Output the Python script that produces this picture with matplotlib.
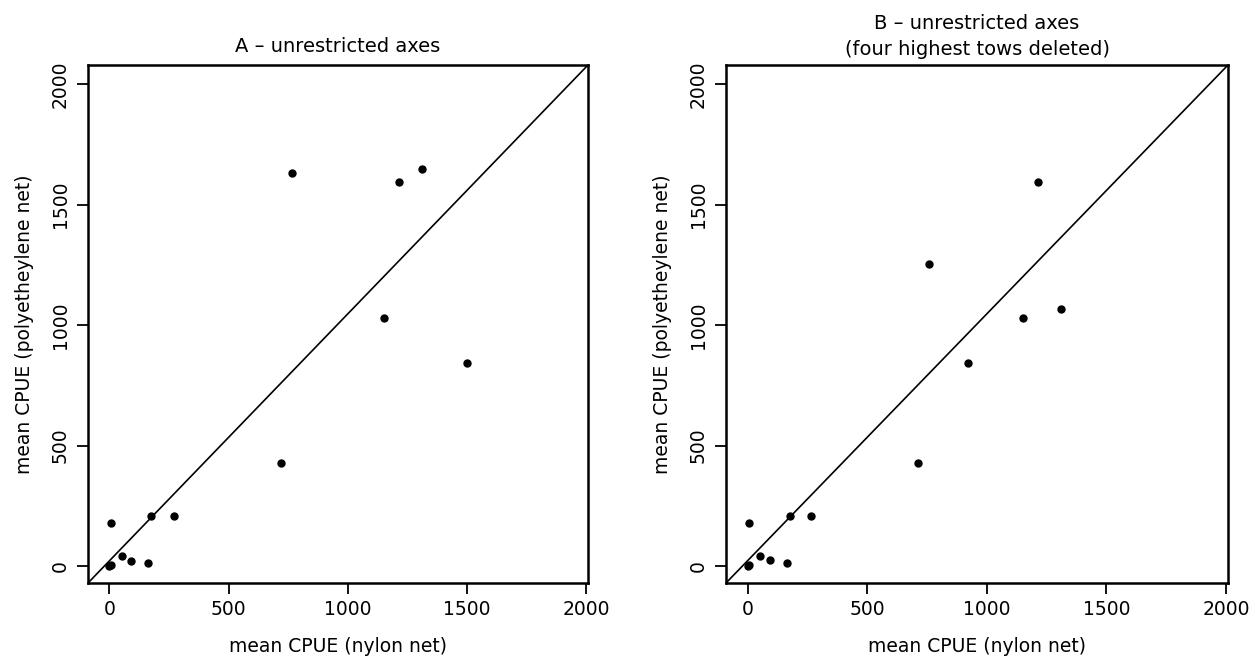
import matplotlib
matplotlib.use("Agg")
import matplotlib.pyplot as plt

# Panel A data (all tows)
a_nylon = [0, 5, 8, 54, 92, 163, 176, 272, 720, 766, 1213, 1313, 1151, 1502]
a_poly = [0, 3, 178, 41, 21, 12, 207, 207, 427, 1631, 1593, 1649, 1029, 844]

# Panel B data (four highest tows deleted)
b_nylon = [0, 5, 8, 54, 92, 163, 176, 267, 714, 760, 1215, 1152, 1311, 923]
b_poly = [0, 3, 178, 41, 25, 12, 207, 207, 427, 1253, 1593, 1029, 1066, 842]

ticks = [0, 500, 1000, 1500, 2000]
tick_labels = ["0", "500", "1000", "1500", "2000"]
titles = ["A \u2013 unrestricted axes", "B \u2013 unrestricted axes\n(four highest tows deleted)"]
title_pads = [9, 7]
xlabel = "mean CPUE (nylon net)"
ylabel = "mean CPUE (polyetheylene net)"

plt.rcParams['font.family'] = ['DejaVu Sans']
fig = plt.figure(figsize=(12.56, 6.68), dpi=100)
W, H = 1256, 668
positions = [(88, 588), (726, 1228)]
top, bottom = 65, 583

datasets = [(a_nylon, a_poly), (b_nylon, b_poly)]
for i, ((l, r), (xs, ys)) in enumerate(zip(positions, datasets)):
    ax = fig.add_axes([l / W, 1 - bottom / H, (r - l) / W, (bottom - top) / H])
    ax.plot(xs, ys, 'o', color='black', markersize=5, linestyle='none')
    ax.plot([0, 1], [0, 1], transform=ax.transAxes, color='black', lw=1.2)
    ax.set_xlim(-90, 2008)
    ax.set_ylim(-70, 2079)
    ax.set_xticks(ticks)
    ax.set_xticklabels(tick_labels)
    ax.set_yticks(ticks)
    ax.set_yticklabels(tick_labels, rotation=90, va='center')
    ax.tick_params(direction='out', length=8, width=1.3, labelsize=13.5, pad=4)
    ax.tick_params(axis='y', pad=5)
    for s in ax.spines.values():
        s.set_linewidth(1.8)
    ax.set_xlabel(xlabel, fontsize=13.5, labelpad=13)
    ax.set_ylabel(ylabel, fontsize=13.5, labelpad=12)
    ax.set_title(titles[i], fontsize=14, pad=title_pads[i], linespacing=1.5)

fig.savefig("out.png", dpi=100, facecolor='white')
